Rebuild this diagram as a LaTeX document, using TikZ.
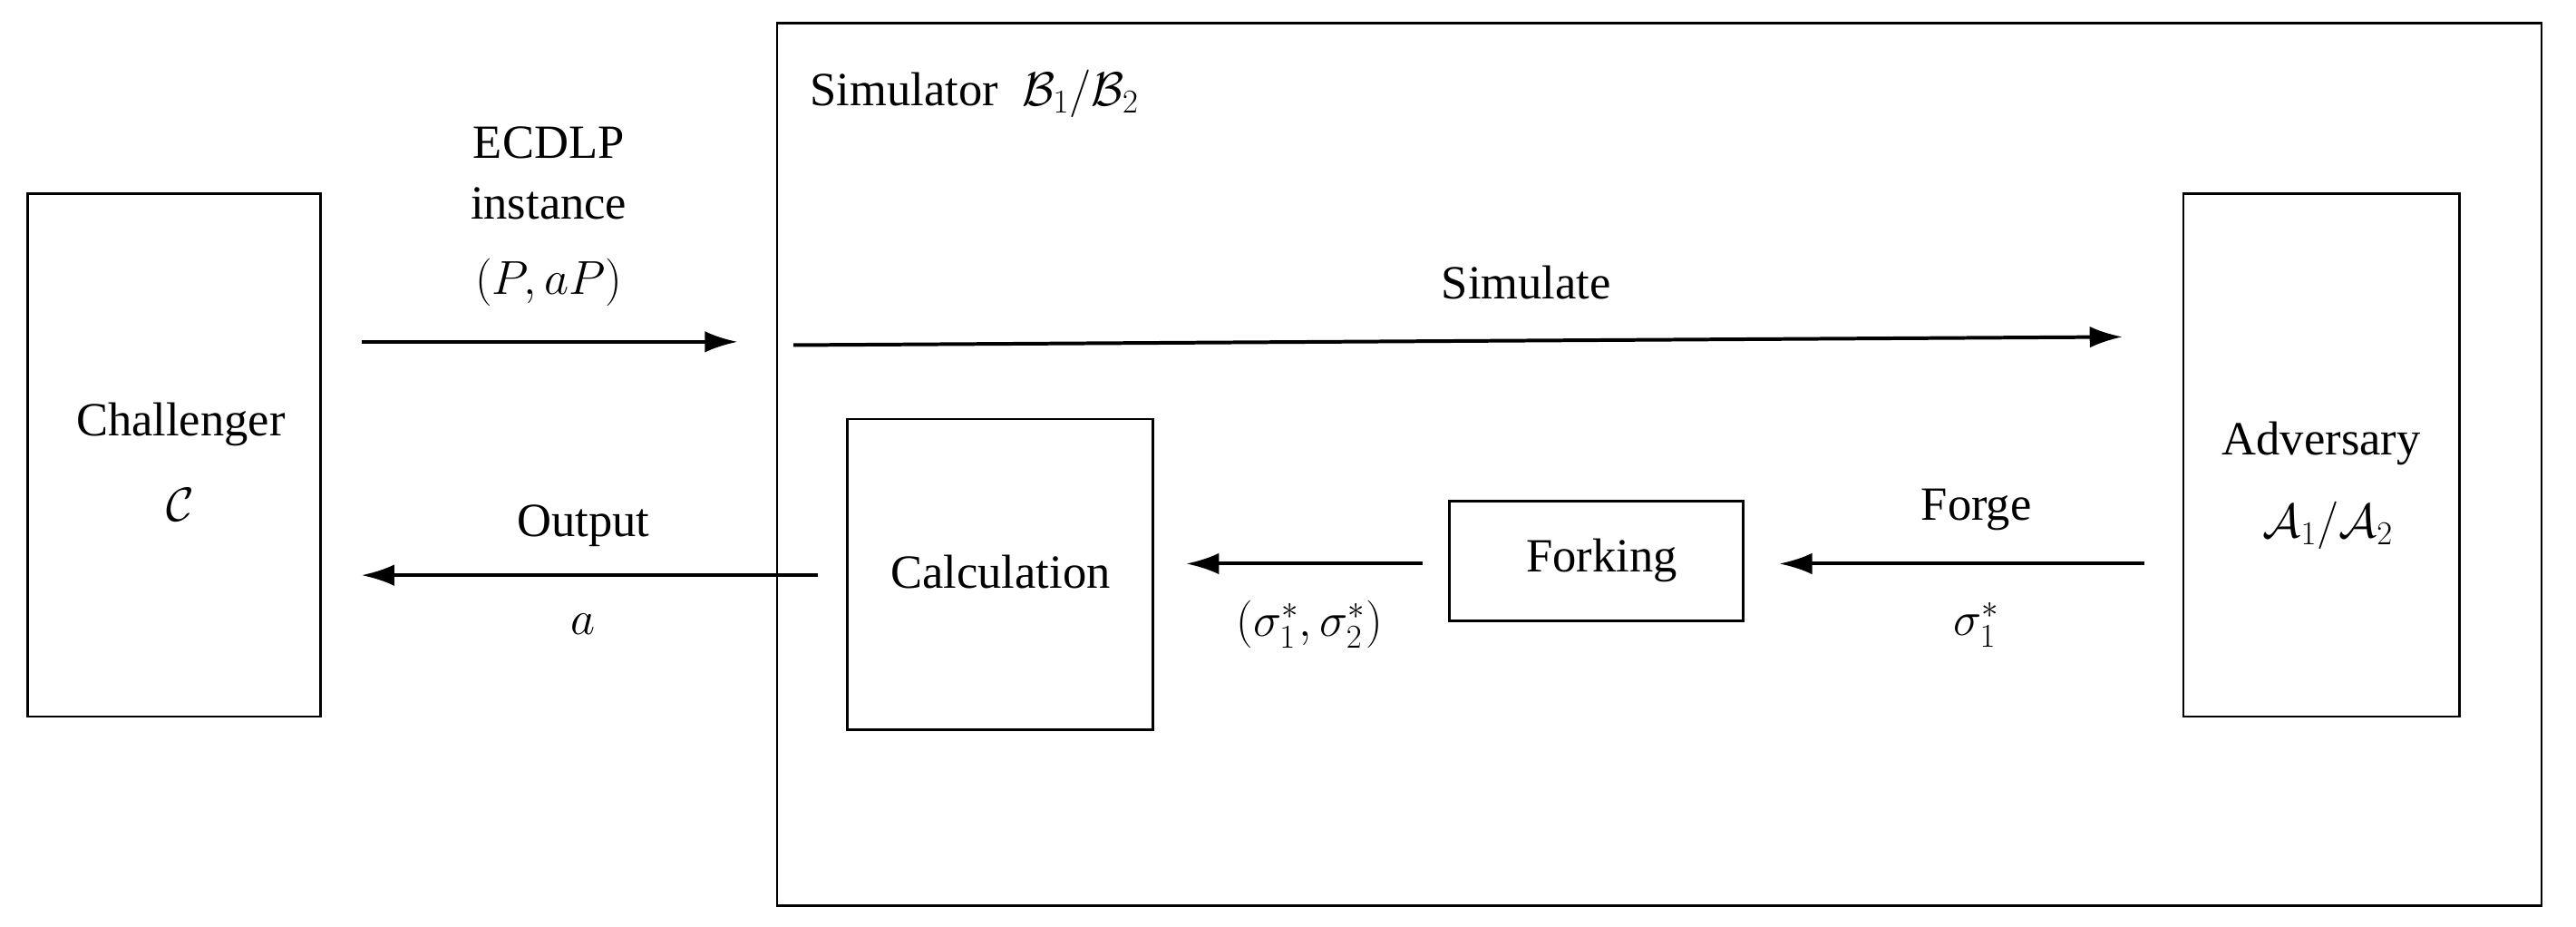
\RequirePackage{fix-cm}
\documentclass[tikz,border=0pt]{standalone}
\usepackage{fontspec}
\setmainfont{Liberation Serif}
\usetikzlibrary{arrows.meta}
\begin{document}
\begin{tikzpicture}[x=1pt,y=-1pt,
  box/.style={draw,line width=1.6pt,inner sep=0pt},
  arr/.style={-{Latex[length=20pt,width=13pt]},line width=2.2pt},
  txt/.style={font=\fontsize{29}{34}\selectfont,inner sep=0pt}]
\useasboundingbox (0,0) rectangle (1568,564);
\node[box,minimum width=178pt,minimum height=318pt] (ch) at (106,277) {};
\node[box,minimum width=1074pt,minimum height=537pt] (sim) at (1010,282.5) {};
\node[box,minimum width=168pt,minimum height=318pt] (adv) at (1413,277) {};
\node[box,minimum width=186pt,minimum height=189pt] (calc) at (609,349.5) {};
\node[box,minimum width=179pt,minimum height=73pt] (fork) at (971.5,341.5) {};
\node[txt] (chl) at (110,258) {Challenger};
\node[txt] (chc) at (110,307) {$\mathcal{C}$};
\node[txt] (advl) at (1413,270) {Adversary};
\node[txt] (adva) at (1417,320) {$\mathcal{A}_1/\mathcal{A}_2$};
\node[txt] (calcl) at (609,348) {Calculation};
\node[txt] (forkl) at (975,341) {Forking};
\node[txt,anchor=west] (siml) at (493,57) {Simulator\ \ $\mathcal{B}_1/\mathcal{B}_2$};
\node[txt] (e1) at (334,87) {ECDLP};
\node[txt] (e2) at (334,124) {instance};
\node[txt] (e3) at (334,172) {$(P,aP)$};
\node[txt] (sl) at (929,172) {Simulate};
\node[txt] (ol) at (355,320) {Output};
\node[txt] (oa) at (355,380) {$a$};
\node[txt] (sg) at (797,380) {$(\sigma_1^*,\sigma_2^*)$};
\node[txt] (fg) at (1203,310) {Forge};
\node[txt] (fs) at (1203,380) {$\sigma_1^*$};
\coordinate (a1) at (220,208); \coordinate (a2) at (449,208);
\coordinate (b1) at (483,210); \coordinate (b2) at (1292,205);
\coordinate (c1) at (498,350); \coordinate (c2) at (220,350);
\coordinate (d1) at (866,343); \coordinate (d2) at (722,343);
\coordinate (f1) at (1305,343); \coordinate (f2) at (1083,343);
\draw[arr] (a1) -- (a2);
\draw[arr] (b1) -- (b2);
\draw[arr] (c1) -- (c2);
\draw[arr] (d1) -- (d2);
\draw[arr] (f1) -- (f2);
\end{tikzpicture}
\end{document}
